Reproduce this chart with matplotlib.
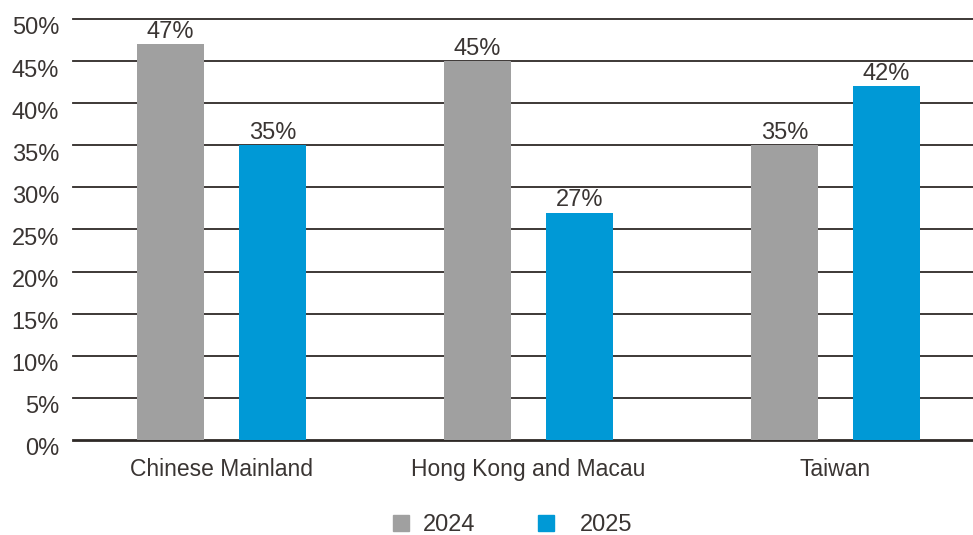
import numpy as np
import matplotlib.pyplot as plt
from matplotlib.lines import Line2D
from matplotlib.transforms import ScaledTranslation

# data
regions = ['Chinese Mainland', 'Hong Kong and Macau', 'Taiwan']
share_2024 = [47, 45, 35]
share_2025 = [35, 27, 42]
years = ['2024', '2025']
y_ticks = [0, 5, 10, 15, 20, 25, 30, 35, 40, 45, 50]

gray = '#a0a0a0'
blue = '#0099d6'
text_col = '#3a3533'
line_col = '#2e2926'

plt.rcParams['font.family'] = ['Liberation Sans', 'DejaVu Sans']

fig = plt.figure(figsize=(9.73, 5.35), dpi=100)
ax = fig.add_axes([0.075, 0.1776, 0.925, 0.7869])

x = np.arange(len(regions))
w = 0.218
off = 0.166
b1 = ax.bar(x - off, share_2024, w, color=gray, zorder=3)
b2 = ax.bar(x + off, share_2025, w, color=blue, zorder=3)

for bars, vals in [(b1, share_2024), (b2, share_2025)]:
    for rect, v in zip(bars, vals):
        ax.text(rect.get_x() + rect.get_width() / 2, v + 0.15, f'{v}%',
                ha='center', va='bottom', fontsize=17, color=text_col, zorder=4)

ax.set_xlim(-0.4837, 2.448)
ax.set_ylim(0, 50)
ax.set_yticks(y_ticks)
ax.set_yticklabels([f'{t}%' for t in y_ticks])
ax.set_xticks(x)
ax.set_xticklabels(regions)
ax.tick_params(axis='both', length=0, labelcolor=text_col)
ax.tick_params(axis='y', pad=10, labelsize=17)
ax.tick_params(axis='x', pad=13, labelsize=16.5)

# y labels sit a little below their gridlines in the reference
shift = ScaledTranslation(0, -7 / 100, fig.dpi_scale_trans)
for lab in ax.get_yticklabels():
    lab.set_transform(lab.get_transform() + shift)

for t in y_ticks:
    ax.axhline(t, color=line_col, lw=2.0 if t == 0 else 1.3, zorder=2, clip_on=False)

for s in ax.spines.values():
    s.set_visible(False)

# two one-entry legends, the second has a wider gap before its text
for c, yr, cx, tpad in [(gray, years[0], 434 / 973, 0.6), (blue, years[1], 585 / 973, 1.12)]:
    h = Line2D([], [], marker='s', ls='', markersize=11, color=c)
    fig.legend([h], [yr], loc='center', bbox_to_anchor=(cx, 0.019),
               frameon=False, fontsize=17, handlelength=0.7, handletextpad=tpad,
               borderpad=0, borderaxespad=0, labelcolor=text_col)

fig.savefig('out.png', dpi=100)
